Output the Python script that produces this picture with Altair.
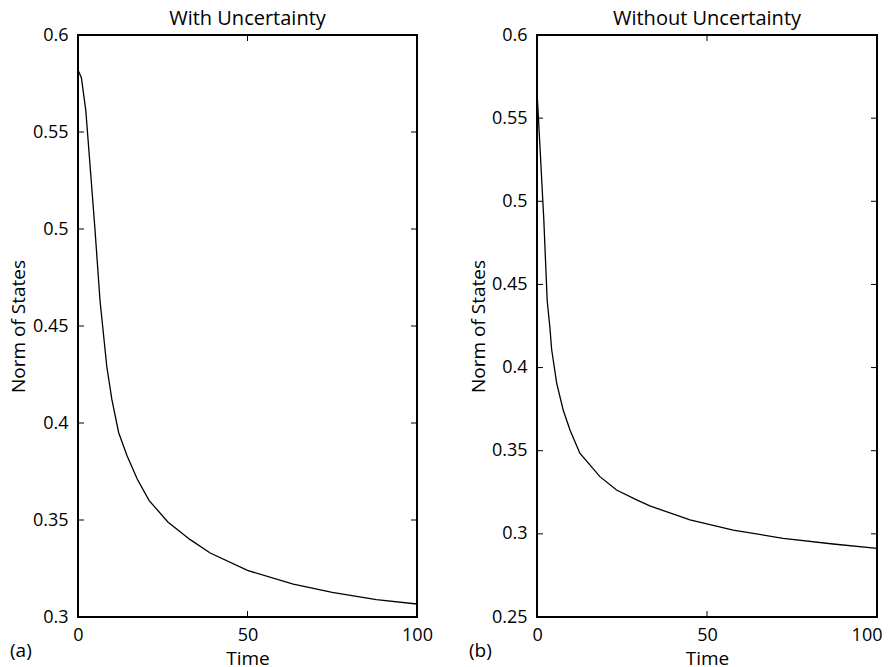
import altair as alt
import pandas as pd

# ---- data ----
time_a = [0, 1, 2.3, 3.5, 5, 6.5, 7.5, 8.5, 10, 12, 14.5, 17.5, 21, 26.5, 33, 39, 50, 63.5, 75, 88, 100]
norm_a = [0.582, 0.578, 0.561, 0.534, 0.500, 0.463, 0.446, 0.429, 0.412, 0.395, 0.383, 0.371,
          0.360, 0.349, 0.340, 0.333, 0.324, 0.317, 0.3127, 0.309, 0.3067]

time_b = [0, 1, 2, 3, 3.8, 4.3, 5.8, 7.7, 9.7, 12.6, 18.5, 23.4, 29.3, 33.2, 45, 57.7, 72.4, 87.1, 100]
norm_b = [0.566, 0.528, 0.489, 0.44, 0.424, 0.411, 0.3905, 0.3745, 0.3625, 0.3485, 0.3344, 0.3264,
          0.3204, 0.3168, 0.3084, 0.3023, 0.2973, 0.2939, 0.2913]

x_ticks = [0, 50, 100]
y_ticks_a = [0.3, 0.35, 0.4, 0.45, 0.5, 0.55, 0.6]
y_ticks_b = [0.25, 0.3, 0.35, 0.4, 0.45, 0.5, 0.55, 0.6]

titles = ["With Uncertainty", "Without Uncertainty"]
tags = ["(a)", "(b)"]

FONT = "Open Sans"
H = 582
TICK = 6


def panel(t, v, yt, title, tag, w, ytitle_x, xflush):
    df = pd.DataFrame({"t": t, "v": v})
    xs = alt.Scale(domain=[0, 100], nice=False, zero=False)
    ys = alt.Scale(domain=[yt[0], yt[-1]], nice=False, zero=False)
    if xflush:
        xax = alt.Axis(values=x_ticks, title="Time", ticks=False, domain=False,
                       grid=False, format="d", labelPadding=9,
                       labelFlush=True, labelFlushOffset=5,
                       titleBaseline="alphabetic", titleY=47)
    else:
        xax = alt.Axis(values=x_ticks, title="Time", ticks=False, domain=False,
                       grid=False, format="d", labelPadding=9, labelFlush=False,
                       titleBaseline="alphabetic", titleY=47)
    yax = alt.Axis(values=yt, title="Norm of States", ticks=False, domain=False,
                   grid=False, format="~g", labelPadding=10, labelFlush=False,
                   titleAngle=270, titleAlign="center", titleBaseline="middle",
                   titleX=ytitle_x, titleY=H / 2)

    line = alt.Chart(df).mark_line(color="black", strokeWidth=1.3, clip=True).encode(
        x=alt.X("t:Q", scale=xs, axis=xax),
        y=alt.Y("v:Q", scale=ys, axis=yax),
    )
    xt = pd.DataFrame({"t": x_ticks})
    ytd = pd.DataFrame({"v": yt})
    bottom = alt.Chart(xt).mark_rule(color="black", strokeWidth=1).encode(
        x=alt.X("t:Q", scale=xs, axis=xax), y=alt.value(H), y2=alt.value(H - TICK))
    top = alt.Chart(xt).mark_rule(color="black", strokeWidth=1).encode(
        x=alt.X("t:Q", scale=xs, axis=xax), y=alt.value(0), y2=alt.value(TICK))
    left = alt.Chart(ytd).mark_rule(color="black", strokeWidth=1).encode(
        y=alt.Y("v:Q", scale=ys, axis=yax), x=alt.value(0), x2=alt.value(TICK))
    right = alt.Chart(ytd).mark_rule(color="black", strokeWidth=1).encode(
        y=alt.Y("v:Q", scale=ys, axis=yax), x=alt.value(w), x2=alt.value(w - TICK))
    tag_text = alt.Chart(pd.DataFrame({"tag": [tag]})).mark_text(
        align="left", baseline="middle", fontSize=19, font=FONT, color="black").encode(
        text="tag:N", x=alt.value(-68), y=alt.value(H + 34))
    title_text = alt.Chart(pd.DataFrame({"title": [title]})).mark_text(
        align="center", baseline="alphabetic", fontSize=20, font=FONT, color="black").encode(
        text="title:N", x=alt.value(w / 2), y=alt.value(-10))

    return alt.layer(line, bottom, top, left, right, tag_text, title_text).properties(
        width=w, height=H,
    )


pa = panel(time_a, norm_a, y_ticks_a, titles[0], tags[0], 339, -60, False)
pb = panel(time_b, norm_b, y_ticks_b, titles[1], tags[1], 340, -59, True)

chart = alt.hconcat(pa, pb, spacing=120, bounds="flush").properties(
    padding={"left": 0, "top": 0, "right": 0, "bottom": 0}
).configure_view(
    stroke="black", strokeWidth=2
).configure_axis(
    labelFont=FONT, labelFontSize=18, labelColor="black",
    titleFont=FONT, titleFontSize=19, titleColor="black", titleFontWeight="normal",
)

chart.save("out.html", embed_options={"renderer": "svg", "actions": False})
